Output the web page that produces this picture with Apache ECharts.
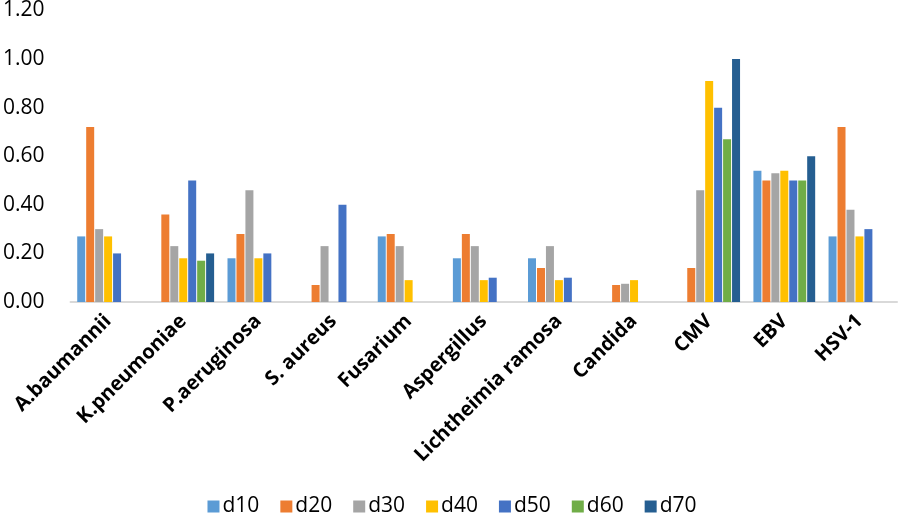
<!DOCTYPE html>
<html>
<head>
<meta charset="utf-8">
<script src="https://cdn.jsdelivr.net/npm/echarts@6/dist/echarts.min.js"></script>
<style>html,body{margin:0;padding:0;background:#fff;}#c{width:904px;height:521px;}</style>
</head>
<body>
<div id="c"></div>
<script>
const categories = ['A.baumannii','K.pneumoniae','P.aeruginosa','S. aureus','Fusarium','Aspergillus','Lichtheimia ramosa','Candida','CMV','EBV','HSV-1'];
const seriesNames = ['d10','d20','d30','d40','d50','d60','d70'];
const d10 = [0.27, null, 0.18, null, 0.27, 0.18, 0.18, null, null, 0.54, 0.27];
const d20 = [0.72, 0.36, 0.28, 0.07, 0.28, 0.28, 0.14, 0.07, 0.14, 0.50, 0.72];
const d30 = [0.30, 0.23, 0.46, 0.23, 0.23, 0.23, 0.23, 0.075, 0.46, 0.53, 0.38];
const d40 = [0.27, 0.18, 0.18, null, 0.09, 0.09, 0.09, 0.09, 0.91, 0.54, 0.27];
const d50 = [0.20, 0.50, 0.20, 0.40, null, 0.10, 0.10, null, 0.80, 0.50, 0.30];
const d60 = [null, 0.17, null, null, null, null, null, null, 0.67, 0.50, null];
const d70 = [null, 0.20, null, null, null, null, null, null, 1.00, 0.60, null];
const yTicks = [0, 0.2, 0.4, 0.6, 0.8, 1.0, 1.2];
const colors = ['#5B9BD5','#ED7D31','#A5A5A5','#FFC000','#4472C4','#70AD47','#255E91'];
const allData = [d10, d20, d30, d40, d50, d60, d70];

const chart = echarts.init(document.getElementById('c'), null, {renderer: 'canvas'});
chart.setOption({
  animation: false,
  color: colors,
  textStyle: {fontFamily: 'Open Sans', color: '#000'},
  grid: {left: 69, right: 7, top: 10, bottom: 219, containLabel: false},
  legend: {
    bottom: -1,
    left: 'center',
    itemWidth: 12,
    itemHeight: 12,
    itemGap: 21,
    icon: 'rect',
    textStyle: {fontSize: 21, color: '#000', fontFamily: 'Open Sans', padding: [0,0,0,-2]},
    data: seriesNames
  },
  xAxis: {
    type: 'category',
    data: categories,
    axisLine: {lineStyle: {color: '#D9D9D9', width: 2}},
    axisTick: {show: false},
    axisLabel: {
      interval: 0,
      rotate: 45,
      fontSize: 20,
      fontWeight: 'bold',
      color: '#000',
      fontFamily: 'Open Sans',
      margin: 16
    }
  },
  yAxis: {
    type: 'value',
    min: yTicks[0],
    max: yTicks[yTicks.length - 1],
    interval: 0.2,
    splitLine: {show: false},
    axisLine: {show: false},
    axisTick: {show: false},
    axisLabel: {
      fontSize: 21,
      color: '#000',
      margin: 26,
      fontFamily: 'Open Sans',
      formatter: v => v.toFixed(2)
    }
  },
  series: seriesNames.map((n, i) => ({
    name: n,
    type: 'bar',
    data: allData[i],
    barWidth: 8,
    barGap: '12%',
    barCategoryGap: '18%'
  }))
});
</script>
</body>
</html>
